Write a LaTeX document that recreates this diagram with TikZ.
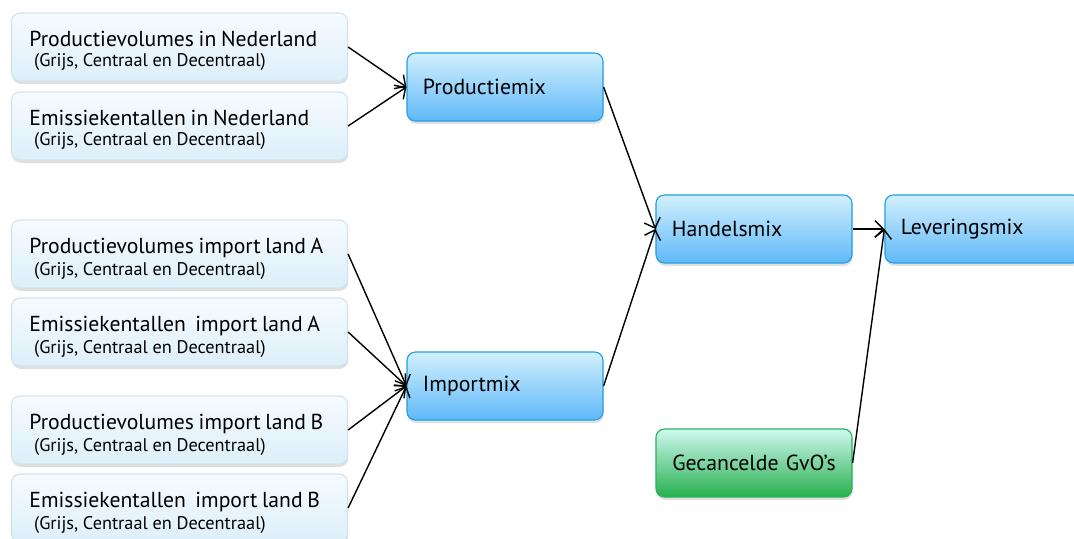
\documentclass[tikz,border=0pt]{standalone}
\usepackage{fontspec}
\setmainfont{PT Sans}
\usetikzlibrary{arrows.meta,shadows}

\definecolor{inborder}{HTML}{D3E3EE}
\definecolor{intop}{HTML}{F7FBFE}
\definecolor{inbot}{HTML}{DCEFFA}
\definecolor{mixborder}{HTML}{22A0DF}
\definecolor{mixtop}{HTML}{D2F0FD}
\definecolor{mixbot}{HTML}{5FB8F9}
\definecolor{gvoborder}{HTML}{2BB35A}
\definecolor{gvotop}{HTML}{D0F8F0}
\definecolor{gvobot}{HTML}{26B04E}

\begin{document}
\begin{tikzpicture}[x=0.025cm,y=-0.025cm]
		% Define box and arrow styles
		\tikzset{
			inbox/.style={rectangle, rounded corners=6pt, draw=inborder, line width=0.8pt,
				top color=intop, bottom color=inbot, minimum width=8.375cm, minimum height=1.7cm,
				text width=7.5cm, align=left, inner xsep=0.45cm, text depth=12pt,
				drop shadow={shadow xshift=0.5pt, shadow yshift=-2pt, opacity=0.25}},
			mixbox/.style={rectangle, rounded corners=6pt, draw=mixborder, line width=0.8pt,
				top color=mixtop, bottom color=mixbot, minimum width=4.9cm, minimum height=1.7cm,
				text width=4.1cm, align=left, inner xsep=0.4cm, font=\fontsize{15.5pt}{18pt}\selectfont,
				drop shadow={shadow xshift=0.5pt, shadow yshift=-2pt, opacity=0.25}},
			gvobox/.style={mixbox, draw=gvoborder, top color=gvotop, bottom color=gvobot, align=center},
			flow/.style={-{Straight Barb[length=6pt,width=12pt]}, line width=1pt, black}
		}
		\newcommand{\intext}[2]{{\fontsize{15.4pt}{18pt}\selectfont #1}\\[2.5pt]{\fontsize{13pt}{15pt}\selectfont\ #2}}
		
		% Fix the page size
		\useasboundingbox (0,0) rectangle (1074,539);
		
		% Input boxes on the left
		\node[inbox] (pvnl) at (179.5,47) {\intext{Productievolumes in Nederland}{(Grijs, Centraal en Decentraal)}};
		\node[inbox] (eknl) at (179.5,126) {\intext{Emissiekentallen in Nederland}{(Grijs, Centraal en Decentraal)}};
		\node[inbox] (pva) at (179.5,254) {\intext{Productievolumes import land A}{(Grijs, Centraal en Decentraal)}};
		\node[inbox] (eka) at (179.5,332) {\intext{Emissiekentallen\ \ import land A}{(Grijs, Centraal en Decentraal)}};
		\node[inbox] (pvb) at (179.5,430) {\intext{Productievolumes import land B}{(Grijs, Centraal en Decentraal)}};
		\node[inbox] (ekb) at (179.5,508) {\intext{Emissiekentallen\ \ import land B}{(Grijs, Centraal en Decentraal)}};
		
		% Mix boxes
		\node[mixbox] (prodmix) at (505,87) {Productiemix};
		\node[mixbox] (impmix) at (505,386) {Importmix};
		\node[mixbox] (handmix) at (754,229) {Handelsmix};
		\node[mixbox] (levmix) at (983,229) {Leveringsmix};
		\node[gvobox] (gvo) at (754,463) {Gecancelde GvO’s};
		
		% Arrows
		\draw[flow] (pvnl.east) -- (prodmix.west);
		\draw[flow] (eknl.east) -- (prodmix.west);
		\draw[flow] (pva.east) -- (impmix.west);
		\draw[flow] (eka.east) -- (impmix.west);
		\draw[flow] (pvb.east) -- (impmix.west);
		\draw[flow] (ekb.east) -- (impmix.west);
		\draw[flow] (prodmix.east) -- (handmix.west);
		\draw[flow] (impmix.east) -- (handmix.west);
		\draw[flow] (handmix.east) -- (levmix.west);
		\draw[flow] (gvo.east) -- (levmix.west);
	\end{tikzpicture}
\end{document}
